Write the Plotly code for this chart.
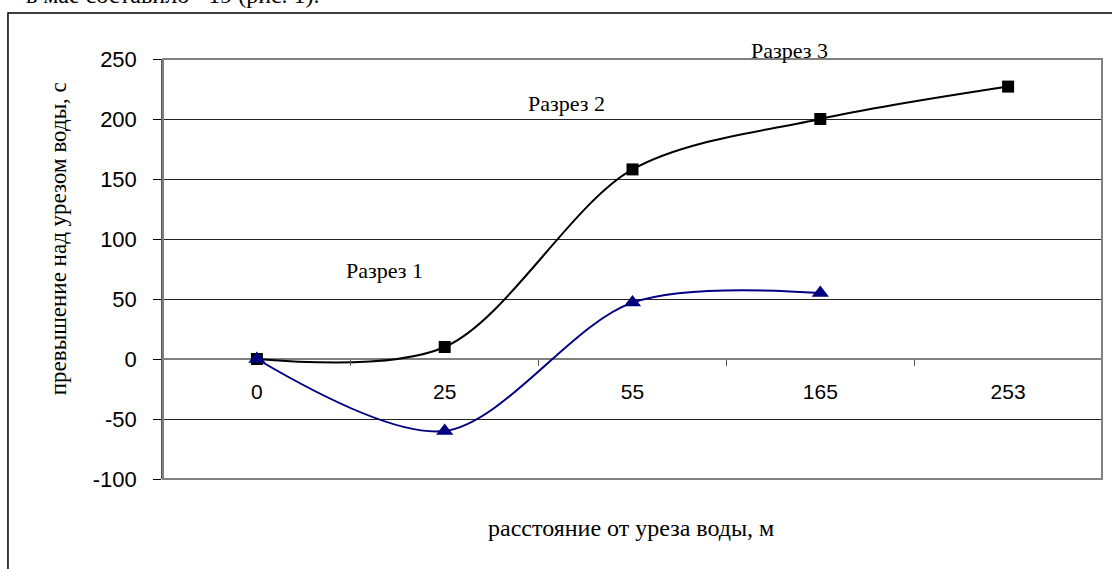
import plotly.graph_objects as go

categories = ["0", "25", "55", "165", "253"]
razrez_black = [0, 10, 158, 200, 227]
razrez_blue = [0, -60, 47, 55]
y_ticks = [-100, -50, 0, 50, 100, 150, 200, 250]
y_ticktext = [str(v) for v in y_ticks]

SERIF = "Liberation Serif, Times New Roman, serif"
SANS = "Liberation Sans, Arial, sans-serif"

fig = go.Figure()
fig.add_trace(go.Scatter(
    x=categories, y=razrez_black, mode="lines+markers",
    line=dict(color="black", width=2, shape="spline", smoothing=0.9),
    marker=dict(symbol="square", size=12, color="black"),
    showlegend=False, cliponaxis=False))
fig.add_trace(go.Scatter(
    x=categories[:len(razrez_blue)], y=razrez_blue, mode="lines+markers",
    line=dict(color="#000080", width=2, shape="spline", smoothing=0.9),
    marker=dict(symbol="triangle-up", size=15, color="#000080"),
    showlegend=False, cliponaxis=False))

fig.update_layout(
    width=1112, height=569,
    margin=dict(l=163, r=10, t=59, b=90),
    paper_bgcolor="white", plot_bgcolor="white",
    xaxis=dict(type="category", categoryorder="array", categoryarray=categories,
               range=[-0.5, 4.5], anchor="free", position=100/350,
               showgrid=False, zeroline=False, showline=False,
               ticks="outside", tickson="boundaries", ticklen=6,
               tickcolor="#555555", tickwidth=1,
               ticklabelstandoff=18, automargin=False,
               tickfont=dict(family=SANS, size=21, color="black")),
    yaxis=dict(range=[-100, 250], tickvals=y_ticks, ticktext=y_ticktext,
               showgrid=True, gridcolor="#222222", gridwidth=1,
               zeroline=True, zerolinecolor="#808080", zerolinewidth=2,
               showline=True, linecolor="#555555", linewidth=1.5,
               ticks="outside", ticklen=8, tickcolor="black",
               ticklabelstandoff=12, automargin=False,
               tickfont=dict(family=SANS, size=22, color="black")),
    shapes=[
        dict(type="rect", xref="paper", yref="paper", x0=0, x1=1, y0=0, y1=1,
             line=dict(color="#808080", width=2), layer="above"),
        dict(type="rect", xref="paper", yref="paper",
             x0=-0.1651, x1=1.0138, y0=-0.2286, y1=1.1095,
             line=dict(color="black", width=1.5)),
    ],
    annotations=[
        dict(text="Разрез 1", xref="paper", yref="paper", x=0.2364, y=0.4976,
             xanchor="center", yanchor="middle", showarrow=False,
             font=dict(family=SERIF, size=22, color="black")),
        dict(text="Разрез 2", xref="paper", yref="paper", x=0.4302, y=0.8929,
             xanchor="center", yanchor="middle", showarrow=False,
             font=dict(family=SERIF, size=22, color="black")),
        dict(text="Разрез 3", xref="paper", yref="paper", x=0.6667, y=1.0214,
             xanchor="center", yanchor="middle", showarrow=False,
             font=dict(family=SERIF, size=22, color="black")),
        dict(text="превышение над урезом воды, с", xref="paper", yref="paper",
             x=-0.1118, y=0.571, xanchor="center", yanchor="middle",
             textangle=-90, showarrow=False,
             font=dict(family=SERIF, size=23, color="black")),
        dict(text="расстояние от уреза воды, м", xref="paper", yref="paper",
             x=0.498, y=-0.1167, xanchor="center", yanchor="middle",
             showarrow=False,
             font=dict(family=SERIF, size=24, color="black")),
        dict(text="в мае составило ~19 (рис. 1).", xref="paper", yref="paper",
             x=0.1693, y=1.1167, xanchor="right", yanchor="bottom",
             showarrow=False, font=dict(family=SERIF, size=24, color="black")),
    ],
)

fig.write_html("out.html", config={"displayModeBar": False},
               post_script="document.body.style.margin='0';")
